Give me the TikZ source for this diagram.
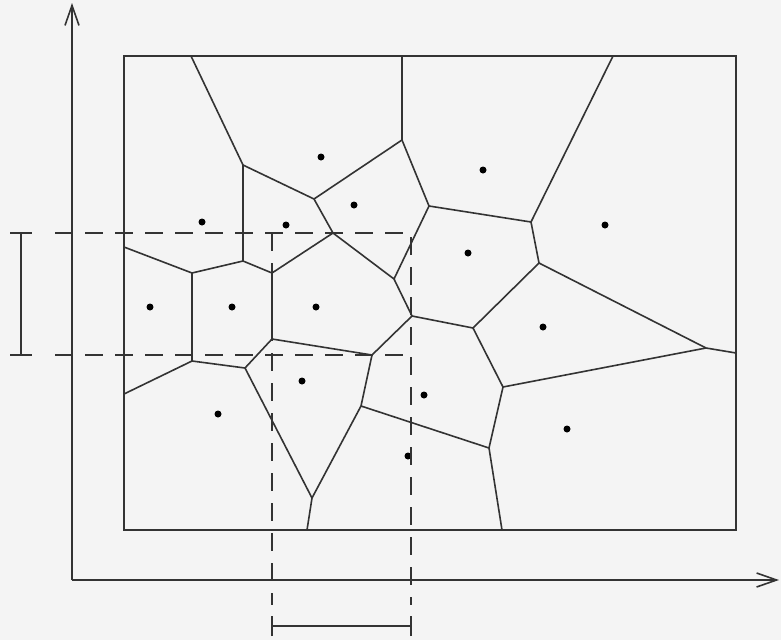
\documentclass[tikz,border=0pt]{standalone}
\usepackage{tikz}
\usetikzlibrary{arrows.meta}

\begin{document}
\begin{tikzpicture}[x=1pt,y=-1pt,line width=1.6pt,
  >={Straight Barb[length=20pt,width=14pt]},
  cell/.style={draw=black!80,line join=round},
  site/.style={circle,fill=black,inner sep=0pt,minimum size=7pt},
  query/.style={draw=black!80,dash pattern=on 18pt off 12pt},
  span/.style={draw=black!80}]
% paper and size
\fill[gray!9] (0,0) rectangle (781,640);
\useasboundingbox (0,0) rectangle (781,640);
% axes and frame
\coordinate (o) at (72,580);
\coordinate (ytip) at (72,3);
\coordinate (xtip) at (779,580);
\draw[->,black!80] (o) -- (ytip);
\draw[->,black!80] (o) -- (xtip);
\draw[black!80] (124,56) rectangle (736,530);
% voronoi vertices
\coordinate (a) at (191,56);
\coordinate (c) at (402,56);
\coordinate (t) at (613,56);
\coordinate (b) at (243,165);
\coordinate (d) at (402,140);
\coordinate (e) at (314,199);
\coordinate (f) at (333,233);
\coordinate (g) at (272,273);
\coordinate (h) at (429,206);
\coordinate (i) at (531,222);
\coordinate (j) at (539,263);
\coordinate (k) at (243,261);
\coordinate (l) at (192,273);
\coordinate (m) at (124,247);
\coordinate (n) at (394,279);
\coordinate (p) at (412,316);
\coordinate (q) at (272,339);
\coordinate (r) at (372,355);
\coordinate (u) at (192,361);
\coordinate (s) at (245,368);
\coordinate (w) at (124,394);
\coordinate (v) at (361,406);
\coordinate (z) at (312,498);
\coordinate (zb) at (307,530);
\coordinate (y) at (473,328);
\coordinate (yy) at (503,387);
\coordinate (rr) at (706,348);
\coordinate (rb) at (736,353);
\coordinate (ac) at (489,448);
\coordinate (ab) at (502,530);
% voronoi edges
\draw[cell] (a) -- (b) -- (e) -- (d) -- (c);
\draw[cell] (b) -- (k) -- (l) -- (m);
\draw[cell] (e) -- (f) -- (g) -- (k);
\draw[cell] (f) -- (n) -- (h) -- (d);
\draw[cell] (n) -- (p);
\draw[cell] (h) -- (i) -- (t);
\draw[cell] (i) -- (j) -- (y) -- (p) -- (r) -- (q) -- (g);
\draw[cell] (l) -- (u) -- (w);
\draw[cell] (u) -- (s) -- (q);
\draw[cell] (s) -- (z) -- (zb);
\draw[cell] (r) -- (v) -- (z);
\draw[cell] (v) -- (ac) -- (ab);
\draw[cell] (j) -- (rr) -- (rb);
\draw[cell] (y) -- (yy) -- (rr);
\draw[cell] (yy) -- (ac);
% sites
\node[site] (s1) at (321,157) {};
\node[site] (s2) at (483,170) {};
\node[site] (s3) at (202,222) {};
\node[site] (s4) at (286,225) {};
\node[site] (s5) at (354,205) {};
\node[site] (s6) at (605,225) {};
\node[site] (s7) at (468,253) {};
\node[site] (s8) at (150,307) {};
\node[site] (s9) at (232,307) {};
\node[site] (s10) at (316,307) {};
\node[site] (s11) at (543,327) {};
\node[site] (s12) at (302,381) {};
\node[site] (s13) at (424,395) {};
\node[site] (s14) at (218,414) {};
\node[site] (s15) at (567,429) {};
\node[site] (s16) at (408,456) {};
% query range, dashed
\coordinate (qtl) at (55,233);
\coordinate (qtr) at (411,233);
\coordinate (qbl) at (55,355);
\coordinate (qbr) at (411,355);
\coordinate (qx1) at (272,233);
\coordinate (qx1b) at (272,605);
\coordinate (qx2b) at (411,605);
\draw[query] (qtl) -- (qtr) -- (qx2b);
\draw[query] (qbl) -- (qbr);
\draw[query] (qx1) -- (qx1b);
% intervals on the axes
\coordinate (iy1) at (21,233);
\coordinate (iy2) at (21,355);
\coordinate (ix1) at (272,626);
\coordinate (ix2) at (411,626);
\draw[span] (iy1) -- (iy2);
\draw[span] ([xshift=-11pt]iy1) -- ([xshift=11pt]iy1);
\draw[span] ([xshift=-11pt]iy2) -- ([xshift=11pt]iy2);
\draw[span] (ix1) -- (ix2);
\draw[span] ([yshift=-10pt]ix1) -- ([yshift=10pt]ix1);
\draw[span] ([yshift=-10pt]ix2) -- ([yshift=10pt]ix2);
\end{tikzpicture}
\end{document}
